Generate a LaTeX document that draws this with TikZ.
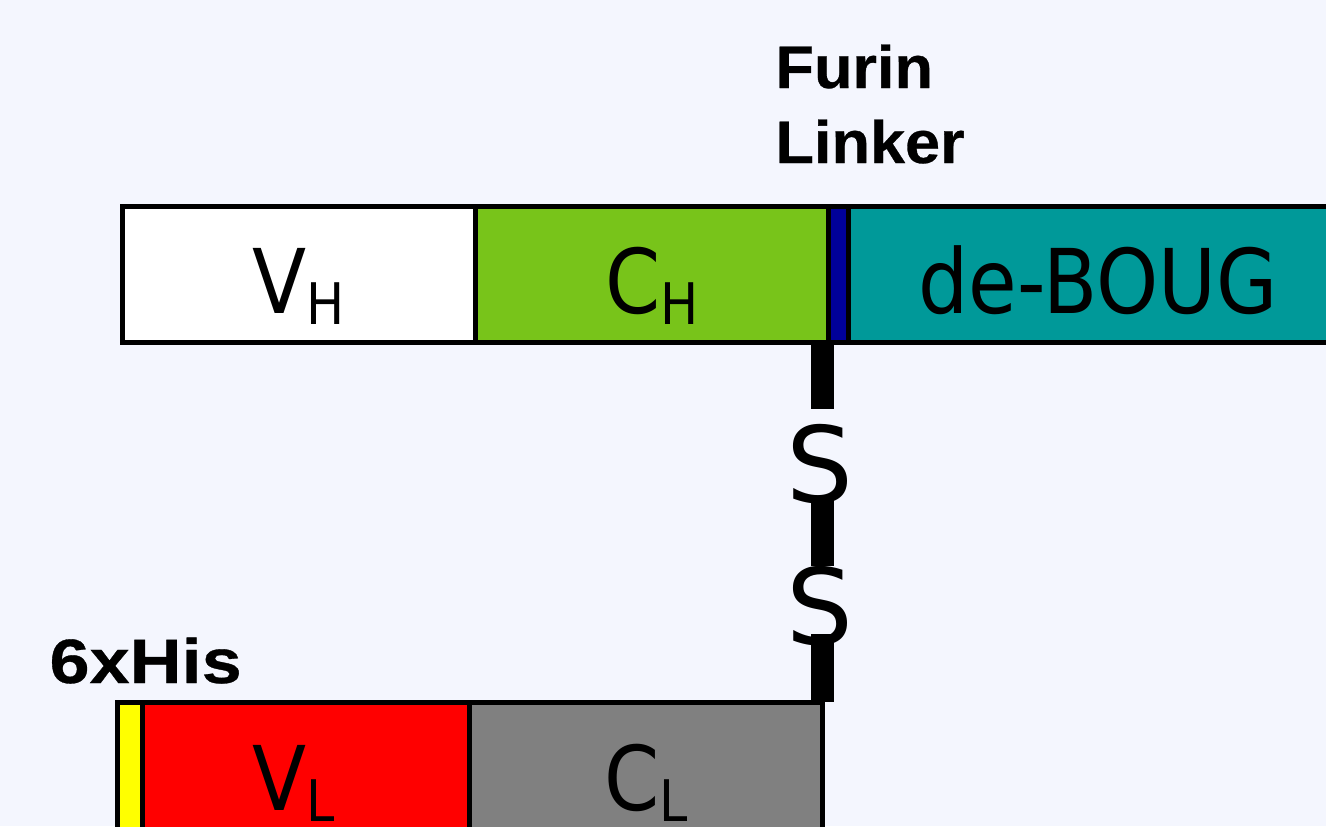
\documentclass[tikz,border=0pt]{standalone}
\usepackage{fontspec}
\newfontfamily\domainfont[FakeStretch=0.885]{DejaVu Sans}
\newfontfamily\sulfurfont{DejaVu Sans}
\newfontfamily\tagfont[BoldFeatures={FakeStretch=1.05,FakeBold=0.5}]{Liberation Sans}
\newfontfamily\hisfont[BoldFeatures={FakeStretch=1.15,FakeBold=0.5}]{Liberation Sans}
\definecolor{bgcol}{RGB}{244,246,254}
\definecolor{chgreen}{RGB}{120,196,26}
\definecolor{linkblue}{RGB}{0,0,153}
\definecolor{bougteal}{RGB}{0,153,153}
\definecolor{clgrey}{RGB}{128,128,128}
\definecolor{hisyellow}{RGB}{255,255,0}
\tikzset{
  protbox/.style={draw=black, line width=3.75pt, rectangle, inner sep=0pt, outer sep=0pt,
    minimum height=136.5*0.75pt},
  lab/.style={inner sep=0pt, outer sep=0pt, anchor=base, font=\domainfont\fontsize{67}{67}\selectfont},
  tag/.style={inner sep=0pt, outer sep=0pt, anchor=base west},
  sulfur/.style={inner sep=0pt, outer sep=0pt, anchor=base, font=\sulfurfont\fontsize{79}{79}\selectfont},
  ssbond/.style={line width=17.25pt, line cap=butt, black}
}
\newcommand{\subl}[1]{{\fontsize{43}{43}\selectfont\raisebox{-8.25pt}{#1}}}
\begin{document}
\begin{tikzpicture}[x=0.75pt, y=-0.75pt]
  \fill[bgcol] (0,0) rectangle (1326,826);
  \useasboundingbox (0,0) rectangle (1326,826);
  \clip (0,0) rectangle (1326,826);

  % heavy chain
  \node[protbox, fill=white, minimum width=352.5*0.75pt] (vh) at (298.75,274.25) {};
  \node[protbox, fill=chgreen, minimum width=353.5*0.75pt] (ch) at (651.75,274.25) {};
  \node[protbox, fill=linkblue, minimum width=19.5*0.75pt] (link) at (838.25,274.25) {};
  \node[protbox, fill=bougteal, minimum width=500*0.75pt] (boug) at (1098,274.25) {};

  % light chain
  \node[protbox, fill=red, minimum width=351.5*0.75pt] (vl) at (293.25,770.25) {};
  \node[protbox, fill=hisyellow, minimum width=25*0.75pt] (his) at (130,770.25) {};
  \node[protbox, fill=clgrey, minimum width=353.5*0.75pt] (cl) at (645.75,770.25) {};

  % domain labels
  \path (vh.south) ++(0,-29.5) node[lab] (vhl) {V\subl{H}};
  \path (ch.south) ++(0,-29.5) node[lab] (chl) {C\subl{H}};
  \path (boug.south) ++(0,-29.5) node[lab] (bougl) {de-BOUG};
  \path (vl.north) ++(0,108) node[lab] (vll) {V\subl{L}};
  \path (cl.north) ++(0,108) node[lab] (cll) {C\subl{L}};

  % tags
  \node[tag, font=\tagfont\bfseries\fontsize{45}{45}\selectfont] (furin) at (775.5,88) {Furin};
  \node[tag, font=\tagfont\bfseries\fontsize{45}{45}\selectfont] (linker) at (775.5,163) {Linker};
  \node[tag, font=\hisfont\bfseries\fontsize{47}{47}\selectfont] (sixhis) at (49.5,683) {6xHis};

  % disulfide bridge
  \node[sulfur] (s1) at (820,502) {S};
  \node[sulfur] (s2) at (820,644) {S};
  \coordinate (b1) at (822.5,409);
  \coordinate (b2) at (822.5,500);
  \coordinate (b3) at (822.5,566);
  \coordinate (b4) at (822.5,634);
  \draw[ssbond] (cl.east |- ch.south) -- (b1);
  \draw[ssbond] (b2) -- (b3);
  \draw[ssbond] (b4) -- (cl.north east);
\end{tikzpicture}
\end{document}
